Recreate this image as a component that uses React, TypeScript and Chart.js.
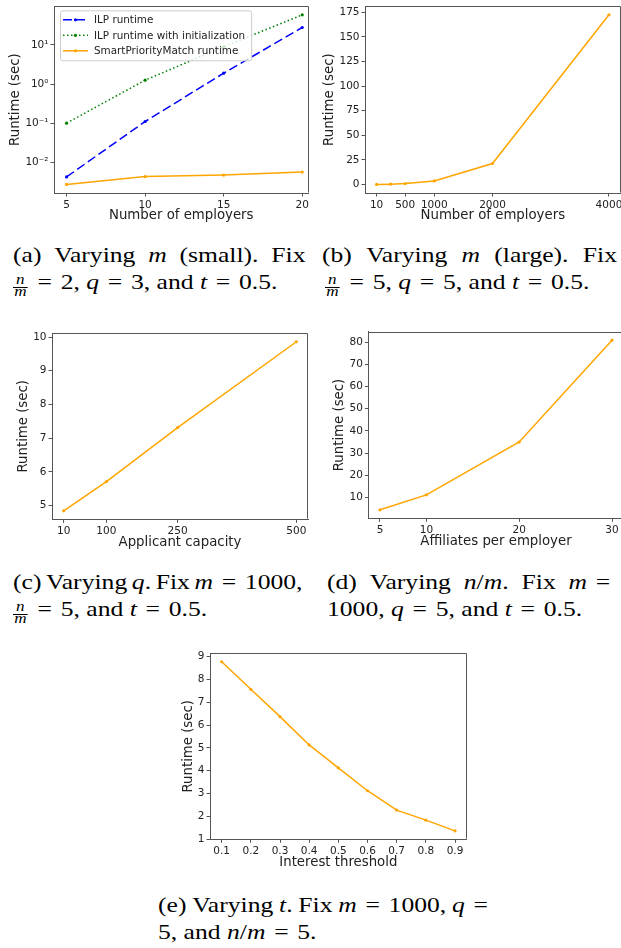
import React, { useEffect, useRef } from "react";
import { Chart, registerables } from "chart.js";

Chart.register(...registerables);

// ---------- Data ----------
// (a) Varying m (small)
const aEmployers = [5, 10, 15, 20];
const aIlpRuntime = [0.0042, 0.11, 1.9, 28];
const aIlpInitRuntime = [0.1, 1.26, 9, 59];
const aSpmRuntime = [0.0027, 0.0043, 0.0047, 0.0056];
const aXTicks = [5, 10, 15, 20];
const aXTickLabels = ["5", "10", "15", "20"];
const aYTicks = [0.01, 0.1, 1, 10];
const aYTickLabels = ["10⁻²", "10⁻¹", "10⁰", "10¹"];

// (b) Varying m (large)
const bEmployers = [10, 250, 500, 1000, 2000, 4000];
const bRuntime = [0.1, 0.4, 1.0, 3.7, 21.4, 172.6];
const bXTicks = [10, 500, 1000, 2000, 4000];
const bXTickLabels = ["10", "500", "1000", "2000", "4000"];
const bYTicks = [0, 25, 50, 75, 100, 125, 150, 175];
const bYTickLabels = ["0", "25", "50", "75", "100", "125", "150", "175"];

// (c) Varying q
const cCapacity = [10, 100, 250, 500];
const cRuntime = [4.84, 5.71, 7.31, 9.86];
const cXTicks = [10, 100, 250, 500];
const cXTickLabels = ["10", "100", "250", "500"];
const cYTicks = [5, 6, 7, 8, 9, 10];
const cYTickLabels = ["5", "6", "7", "8", "9", "10"];

// (d) Varying n/m
const dAffiliates = [5, 10, 20, 30];
const dRuntime = [4.45, 11.2, 35.0, 80.9];
const dXTicks = [5, 10, 20, 30];
const dXTickLabels = ["5", "10", "20", "30"];
const dYTicks = [10, 20, 30, 40, 50, 60, 70, 80];
const dYTickLabels = ["10", "20", "30", "40", "50", "60", "70", "80"];

// (e) Varying t
const eThreshold = [0.1, 0.2, 0.3, 0.4, 0.5, 0.6, 0.7, 0.8, 0.9];
const eRuntime = [8.78, 7.57, 6.37, 5.13, 4.12, 3.12, 2.27, 1.83, 1.36];
const eXTicks = [0.1, 0.2, 0.3, 0.4, 0.5, 0.6, 0.7, 0.8, 0.9];
const eXTickLabels = ["0.1", "0.2", "0.3", "0.4", "0.5", "0.6", "0.7", "0.8", "0.9"];
const eYTicks = [1, 2, 3, 4, 5, 6, 7, 8, 9];
const eYTickLabels = ["1", "2", "3", "4", "5", "6", "7", "8", "9"];

const yTitle = "Runtime (sec)";

// ---------- Style ----------
const FONT = '"DejaVu Sans", sans-serif';
const SERIF = '"Liberation Serif", "Times New Roman", serif';
const TITLE_SIZE = 13.3;
const TICK_SIZE = 10.5;
const LEGEND_SIZE = 10.4;
const TEXT = "#222";
const SPINE = "#555";
const ORANGE = "#FFA500";
const BLUE = "#0000FF";
const GREEN = "#008000";

interface Series {
  label: string;
  xs: number[];
  ys: number[];
  color: string;
  dash?: number[];
}

interface PanelSpec {
  plot: { l: number; t: number; r: number; b: number };
  yTitleX: number;
  xTitleY: number;
  xMin: number;
  xMax: number;
  yMin: number;
  yMax: number;
  yLog?: boolean;
  xTicks: number[];
  xTickLabels: string[];
  yTicks: number[];
  yTickLabels: string[];
  xTitle: string;
  series: Series[];
  legend?: boolean;
}

const framePlugin = {
  id: "mplFrame",
  afterDatasetsDraw(chart: any) {
    const { ctx, chartArea } = chart;
    const l = Math.round(chartArea.left) + 0.5;
    const t = Math.round(chartArea.top) + 0.5;
    const r = Math.round(chartArea.right) - 0.5;
    const b = Math.round(chartArea.bottom) - 0.5;
    ctx.save();
    ctx.strokeStyle = SPINE;
    ctx.lineWidth = 1;
    ctx.beginPath();
    ctx.moveTo(l, t);
    ctx.lineTo(r, t);
    ctx.lineTo(r, b);
    ctx.stroke();
    ctx.restore();
  },
};

const legendPlugin = {
  id: "mplLegend",
  afterDatasetsDraw(chart: any) {
    const { ctx, chartArea } = chart;
    const dsets = chart.data.datasets;
    const bx = chartArea.left + 6;
    const by = chartArea.top + 4;
    ctx.save();
    ctx.font = `${LEGEND_SIZE}px ${FONT}`;
    const textW = Math.max(...dsets.map((d: any) => ctx.measureText(d.label).width));
    const pad = 3;
    const handle = 25;
    const gap = 6;
    const rowH = 15.5;
    const w = pad + handle + gap + textW + 6;
    const h = rowH * dsets.length + 3.5;
    ctx.beginPath();
    ctx.roundRect(bx + 0.5, by + 0.5, w, h, 2.5);
    ctx.fillStyle = "rgba(255,255,255,0.8)";
    ctx.fill();
    ctx.strokeStyle = "#cccccc";
    ctx.lineWidth = 1;
    ctx.stroke();
    dsets.forEach((d: any, i: number) => {
      const cy = by + 1.75 + rowH * (i + 0.5);
      const x0 = bx + pad;
      const x1 = x0 + handle;
      ctx.strokeStyle = d.borderColor;
      ctx.lineWidth = d.borderWidth;
      ctx.setLineDash(d.borderDash || []);
      ctx.beginPath();
      ctx.moveTo(x0, cy);
      ctx.lineTo(x1, cy);
      ctx.stroke();
      ctx.setLineDash([]);
      ctx.fillStyle = d.borderColor;
      ctx.beginPath();
      ctx.arc((x0 + x1) / 2, cy, d.pointRadius, 0, Math.PI * 2);
      ctx.fill();
      ctx.fillStyle = TEXT;
      ctx.textBaseline = "middle";
      ctx.textAlign = "left";
      ctx.fillText(d.label, x1 + gap, cy + 0.5);
    });
    ctx.restore();
  },
};

function PanelChart({ spec }: { spec: PanelSpec }) {
  const ref = useRef<HTMLCanvasElement>(null);
  const lh = TITLE_SIZE * 1.2;
  const cl = Math.floor(spec.yTitleX - lh / 2);
  const yTitlePad = spec.yTitleX - lh / 2 - cl;
  const cb = Math.ceil(spec.xTitleY + lh / 2);
  const xTitlePad = cb - (spec.xTitleY + lh / 2);
  const ct = Math.floor(spec.plot.t - 8);
  const cr = Math.ceil(spec.plot.r + 8);

  useEffect(() => {
    const tickFont = { family: FONT, size: TICK_SIZE };
    const titleFont = { family: FONT, size: TITLE_SIZE };
    const grid = {
      display: true,
      drawOnChartArea: false,
      drawTicks: true,
      tickLength: 3.5,
      tickColor: SPINE,
      tickWidth: 1,
    };
    const border = { display: true, color: SPINE, width: 1 };
    const chart = new Chart(ref.current as HTMLCanvasElement, {
      type: "line",
      data: {
        datasets: spec.series.map((s) => ({
          label: s.label,
          data: s.xs.map((x, i) => ({ x, y: s.ys[i] })),
          borderColor: s.color,
          backgroundColor: s.color,
          borderWidth: 1.5,
          borderDash: s.dash || [],
          pointRadius: 1.6,
          pointBorderWidth: 0,
          pointBackgroundColor: s.color,
          pointHoverRadius: 0,
          tension: 0,
          fill: false,
        })),
      },
      options: {
        animation: false,
        responsive: true,
        maintainAspectRatio: false,
        events: [],
        layout: {
          padding: { top: spec.plot.t - ct, right: cr - spec.plot.r, left: 0, bottom: 0 },
        },
        plugins: {
          legend: { display: false },
          tooltip: { enabled: false },
        },
        scales: {
          x: {
            type: "linear",
            position: "bottom",
            min: spec.xMin,
            max: spec.xMax,
            afterBuildTicks: (s: any) => {
              s.ticks = spec.xTicks.map((v) => ({ value: v }));
            },
            afterFit: (s: any) => {
              s.height = cb - spec.plot.b;
            },
            ticks: {
              autoSkip: false,
              maxRotation: 0,
              minRotation: 0,
              padding: 2.5,
              font: tickFont,
              color: TEXT,
              callback: (_v: any, i: number) => spec.xTickLabels[i],
            },
            grid,
            border,
            title: {
              display: true,
              text: spec.xTitle,
              font: titleFont,
              color: TEXT,
              padding: { top: 0, bottom: xTitlePad },
            },
          },
          y: {
            type: spec.yLog ? "logarithmic" : "linear",
            position: "left",
            min: spec.yMin,
            max: spec.yMax,
            afterBuildTicks: (s: any) => {
              s.ticks = spec.yTicks.map((v) => ({ value: v }));
            },
            afterFit: (s: any) => {
              s.width = spec.plot.l - cl;
            },
            ticks: {
              autoSkip: false,
              padding: 2,
              font: tickFont,
              color: TEXT,
              callback: (_v: any, i: number) => spec.yTickLabels[i],
            },
            grid,
            border,
            title: {
              display: true,
              text: yTitle,
              font: titleFont,
              color: TEXT,
              padding: { top: yTitlePad, bottom: 0 },
            },
          },
        },
      } as any,
      plugins: spec.legend ? [framePlugin, legendPlugin] : [framePlugin],
    } as any);
    return () => chart.destroy();
  }, []);

  return (
    <div
      style={{
        position: "absolute",
        left: cl,
        top: ct,
        width: cr - cl,
        height: cb - ct,
      }}
    >
      <canvas ref={ref} />
    </div>
  );
}

const panels: PanelSpec[] = [
  {
    plot: { l: 54, t: 6, r: 308.5, b: 193 },
    yTitleX: 15.5,
    xTitleY: 215.5,
    xMin: 4.2,
    xMax: 20.4,
    yMin: 0.00163,
    yMax: 97.7,
    yLog: true,
    xTicks: aXTicks,
    xTickLabels: aXTickLabels,
    yTicks: aYTicks,
    yTickLabels: aYTickLabels,
    xTitle: "Number of employers",
    legend: true,
    series: [
      { label: "ILP runtime", xs: aEmployers, ys: aIlpRuntime, color: BLUE, dash: [9, 4] },
      { label: "ILP runtime with initialization", xs: aEmployers, ys: aIlpInitRuntime, color: GREEN, dash: [1.5, 2.5] },
      { label: "SmartPriorityMatch runtime", xs: aEmployers, ys: aSpmRuntime, color: ORANGE },
    ],
  },
  {
    plot: { l: 365, t: 6, r: 620.6, b: 193 },
    yTitleX: 330,
    xTitleY: 215.5,
    xMin: -189.5,
    xMax: 4199.5,
    yMin: -8.6,
    yMax: 181.2,
    xTicks: bXTicks,
    xTickLabels: bXTickLabels,
    yTicks: bYTicks,
    yTickLabels: bYTickLabels,
    xTitle: "Number of employers",
    series: [{ label: "SmartPriorityMatch runtime", xs: bEmployers, ys: bRuntime, color: ORANGE }],
  },
  {
    plot: { l: 52, t: 333.3, r: 308, b: 519.3 },
    yTitleX: 24,
    xTitleY: 542.5,
    xMin: -14.5,
    xMax: 524.5,
    yMin: 4.589,
    yMax: 10.111,
    xTicks: cXTicks,
    xTickLabels: cXTickLabels,
    yTicks: cYTicks,
    yTickLabels: cYTickLabels,
    xTitle: "Applicant capacity",
    series: [{ label: "SmartPriorityMatch runtime", xs: cCapacity, ys: cRuntime, color: ORANGE }],
  },
  {
    plot: { l: 368.4, t: 331.7, r: 623.6, b: 518.3 },
    yTitleX: 339.3,
    xTitleY: 541.7,
    xMin: 3.75,
    xMax: 31.25,
    yMin: 0.63,
    yMax: 84.7,
    xTicks: dXTicks,
    xTickLabels: dXTickLabels,
    yTicks: dYTicks,
    yTickLabels: dYTickLabels,
    xTitle: "Affiliates per employer",
    series: [{ label: "SmartPriorityMatch runtime", xs: dAffiliates, ys: dRuntime, color: ORANGE }],
  },
  {
    plot: { l: 210, t: 653.3, r: 466.7, b: 839.3 },
    yTitleX: 188.3,
    xTitleY: 862.7,
    xMin: 0.06,
    xMax: 0.94,
    yMin: 0.99,
    yMax: 9.15,
    xTicks: eXTicks,
    xTickLabels: eXTickLabels,
    yTicks: eYTicks,
    yTickLabels: eYTickLabels,
    xTitle: "Interest threshold",
    series: [{ label: "SmartPriorityMatch runtime", xs: eThreshold, ys: eRuntime, color: ORANGE }],
  },
];

// ---------- Captions ----------
const CAP = 21;
const SX = 1.22;
const ASC = 17.6;

function CapLine({
  left,
  baseline,
  right,
  children,
}: {
  left: number;
  baseline: number;
  right?: number;
  children: React.ReactNode;
}) {
  const style: any = {
    position: "absolute",
    left,
    top: baseline - ASC,
    height: CAP,
    lineHeight: `${CAP}px`,
    fontSize: CAP,
    fontFamily: SERIF,
    color: "#000",
    whiteSpace: "nowrap",
    transform: `scaleX(${SX})`,
    transformOrigin: "0 0",
  };
  if (right !== undefined) {
    Object.assign(style, {
      width: (right - left) / SX,
      display: "flex",
      justifyContent: "space-between",
      alignItems: "baseline",
    });
  }
  return <div style={style}>{children}</div>;
}

const I = ({ children }: { children: React.ReactNode }) => <i>{children}</i>;
const Eq = () => <span style={{ margin: "0 0.34em" }}>=</span>;

function Frac() {
  return (
    <span
      style={{
        display: "inline-block",
        position: "relative",
        width: 12,
        height: 10,
        marginRight: 1,
      }}
    >
      <span
        style={{
          position: "absolute",
          left: 0,
          right: 0,
          top: -6.7,
          textAlign: "center",
          fontSize: 14,
          lineHeight: "14px",
          fontStyle: "italic",
        }}
      >
        n
      </span>
      <span
        style={{
          position: "absolute",
          left: 0,
          right: 0,
          top: 7.2,
          height: 0,
          borderTop: "0.8px solid #000",
        }}
      />
      <span
        style={{
          position: "absolute",
          left: 0,
          right: 0,
          top: 5.3,
          textAlign: "center",
          fontSize: 14,
          lineHeight: "14px",
          fontStyle: "italic",
        }}
      >
        m
      </span>
    </span>
  );
}

function Captions() {
  return (
    <>
      <CapLine left={12.5} baseline={263} right={305}>
        <span>(a)</span>
        <span>Varying</span>
        <span><I>m</I></span>
        <span>(small).</span>
        <span>Fix</span>
      </CapLine>
      <CapLine left={12.5} baseline={290}>
        <Frac />
        <Eq />2, <I>q</I>
        <Eq />3, and <I>t</I>
        <Eq />0.5.
      </CapLine>

      <CapLine left={322} baseline={263} right={617}>
        <span>(b)</span>
        <span>Varying</span>
        <span><I>m</I></span>
        <span>(large).</span>
        <span>Fix</span>
      </CapLine>
      <CapLine left={325} baseline={290}>
        <Frac />
        <Eq />5, <I>q</I>
        <Eq />5, and <I>t</I>
        <Eq />0.5.
      </CapLine>

      <CapLine left={12.5} baseline={590} right={302}>
        <span>(c)</span>
        <span>Varying</span>
        <span><I>q</I>.</span>
        <span>Fix</span>
        <span>
          <I>m</I>
          <Eq />1000,
        </span>
      </CapLine>
      <CapLine left={12.5} baseline={617}>
        <Frac />
        <Eq />5, and <I>t</I>
        <Eq />0.5.
      </CapLine>

      <CapLine left={327} baseline={590} right={619}>
        <span>(d)</span>
        <span>Varying</span>
        <span>
          <I>n</I>/<I>m</I>.
        </span>
        <span>Fix</span>
        <span>
          <I>m</I>
          <Eq />
        </span>
      </CapLine>
      <CapLine left={327} baseline={617}>
        1000, <I>q</I>
        <Eq />5, and <I>t</I>
        <Eq />0.5.
      </CapLine>

      <CapLine left={158.3} baseline={913} right={497}>
        <span>(e)</span>
        <span>Varying</span>
        <span><I>t</I>.</span>
        <span>Fix</span>
        <span>
          <I>m</I>
          <Eq />1000,
        </span>
        <span>
          <I>q</I>
          <Eq />
        </span>
      </CapLine>
      <CapLine left={158.3} baseline={940}>
        5, and <I>n</I>/<I>m</I>
        <Eq />5.
      </CapLine>
    </>
  );
}

export default function App() {
  return (
    <div
      style={{
        position: "absolute",
        left: 0,
        top: 0,
        width: 621,
        height: 948,
        overflow: "hidden",
        background: "#fff",
      }}
    >
      {panels.map((p, i) => (
        <PanelChart key={i} spec={p} />
      ))}
      <Captions />
    </div>
  );
}
